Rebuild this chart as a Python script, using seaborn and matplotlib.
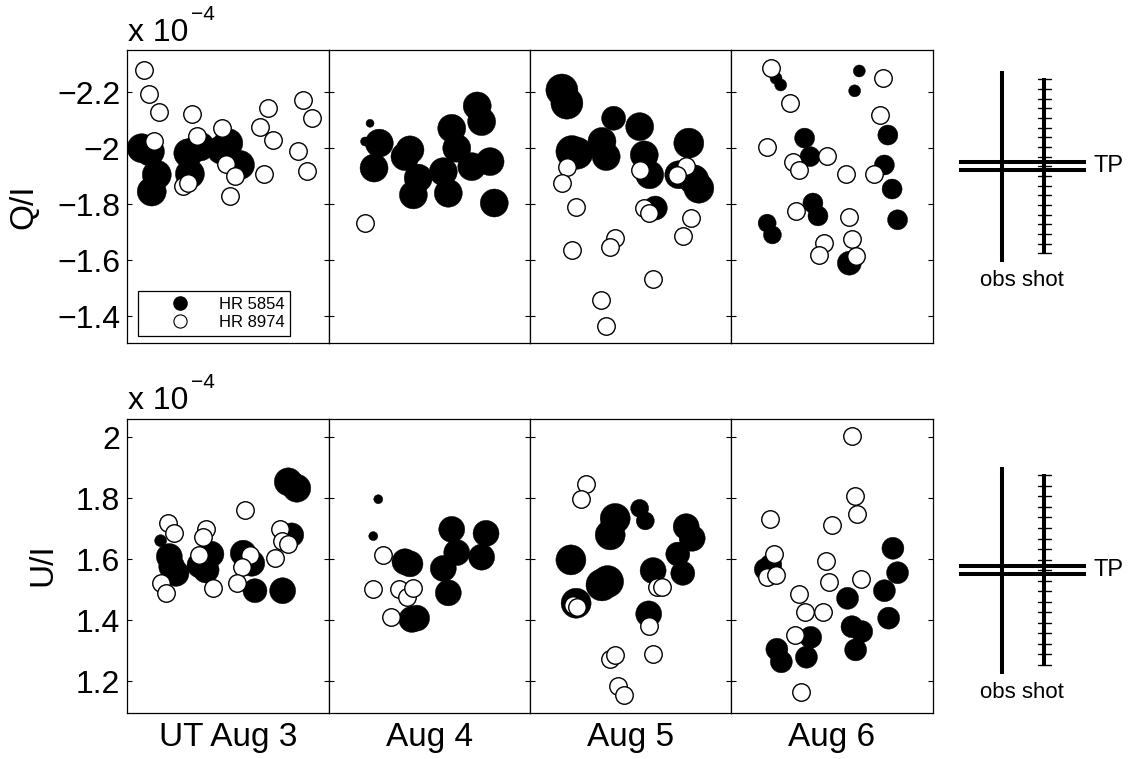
import numpy as np
import pandas as pd
import matplotlib
matplotlib.use("Agg")
import matplotlib.pyplot as plt
from matplotlib.lines import Line2D
import seaborn as sns

# ---------------- data ----------------
DAYS = ["UT Aug 3", "Aug 4", "Aug 5", "Aug 6"]
STARS = ["HR 5854", "HR 8974"]

# Q/I (units of 1e-4), HR 5854 (filled): night index, time within night (fraction), value, weight
Q_5854_DAY = [0, 0, 0, 0, 0, 0, 0, 0, 0, 0,
              1, 1, 1, 1, 1, 1, 1, 1, 1, 1, 1, 1, 1, 1, 1, 1, 1,
              2, 2, 2, 2, 2, 2, 2, 2, 2, 2, 2, 2, 2, 2, 2,
              3, 3, 3, 3, 3, 3, 3, 3, 3, 3, 3, 3, 3, 3, 3]
Q_5854_T = [0.071, 0.112, 0.146, 0.121, 0.302, 0.360, 0.310, 0.500, 0.467, 0.558,
            0.203, 0.178, 0.249, 0.223, 0.377, 0.402, 0.443, 0.419, 0.568, 0.593,
            0.610, 0.635, 0.737, 0.759, 0.710, 0.801, 0.822,
            0.159, 0.184, 0.209, 0.234, 0.417, 0.359, 0.380, 0.547, 0.570, 0.597,
            0.625, 0.792, 0.742, 0.842, 0.817,
            0.225, 0.248, 0.636, 0.613, 0.366, 0.393, 0.777, 0.760, 0.798, 0.825,
            0.407, 0.432, 0.181, 0.207, 0.587]
Q_5854_VAL = [-2.000, -1.988, -1.905, -1.845, -1.982, -2.006, -1.908, -2.018, -1.994, -1.940,
              -2.089, -2.024, -2.018, -1.929, -1.970, -1.994, -1.893, -1.833, -1.916, -1.839,
              -2.071, -2.000, -2.151, -2.095, -1.934, -1.952, -1.804,
              -2.208, -2.161, -1.988, -1.982, -2.107, -2.024, -1.970, -2.077, -1.976, -1.905,
              -1.786, -2.018, -1.905, -1.857, -1.887,
              -2.250, -2.226, -2.276, -2.205, -2.036, -1.970, -2.047, -1.940, -1.854, -1.744,
              -1.804, -1.758, -1.732, -1.690, -1.589]
Q_5854_W = [29, 29, 29, 29, 29, 29, 29, 29, 29, 29,
            8, 9, 28, 28, 28, 28, 28, 28, 28, 28, 28, 28, 28, 28, 28, 28, 28,
            32, 32, 32, 32, 24, 28, 28, 28, 28, 28, 24, 30, 28, 30, 30,
            12, 12, 12, 12, 20, 20, 20, 20, 20, 20, 20, 20, 18, 18, 24]

# Q/I, HR 8974 (open)
Q_8974_DAY = [0, 0, 0, 0, 0, 0, 0, 0, 0, 0, 0, 0, 0, 0, 0, 0, 0, 0, 0, 0,
              1,
              2, 2, 2, 2, 2, 2, 2, 2, 2, 2, 2, 2, 2, 2, 2, 2,
              3, 3, 3, 3, 3, 3, 3, 3, 3, 3, 3, 3, 3, 3, 3, 3]
Q_8974_T = [0.084, 0.109, 0.157, 0.134, 0.322, 0.345, 0.277, 0.302, 0.469, 0.487,
            0.533, 0.510, 0.698, 0.657, 0.721, 0.677, 0.870, 0.914, 0.845, 0.890,
            0.179,
            0.187, 0.162, 0.230, 0.209, 0.422, 0.397, 0.354, 0.380, 0.547, 0.570,
            0.592, 0.614, 0.779, 0.734, 0.804, 0.762,
            0.199, 0.292, 0.181, 0.310, 0.340, 0.477, 0.569, 0.707, 0.754, 0.740,
            0.322, 0.587, 0.600, 0.460, 0.437, 0.618]
Q_8974_VAL = [-2.280, -2.193, -2.131, -2.024, -2.121, -2.044, -1.865, -1.875, -2.071, -1.944,
              -1.899, -1.830, -2.145, -2.077, -2.030, -1.907, -2.173, -2.107, -1.990, -1.919,
              -1.734,
              -1.934, -1.877, -1.789, -1.637, -1.679, -1.645, -1.458, -1.363, -1.922, -1.786,
              -1.768, -1.532, -1.937, -1.905, -1.750, -1.687,
              -2.288, -2.163, -2.006, -1.949, -1.922, -1.972, -1.907, -1.908, -2.252, -2.119,
              -1.777, -1.754, -1.675, -1.661, -1.619, -1.613]

# U/I (units of 1e-4), HR 5854 (filled)
U_5854_DAY = [0, 0, 0, 0, 0, 0, 0, 0, 0, 0, 0, 0, 0, 0,
              1, 1, 1, 1, 1, 1, 1, 1, 1, 1, 1, 1,
              2, 2, 2, 2, 2, 2, 2, 2, 2, 2, 2, 2, 2, 2,
              3, 3, 3, 3, 3, 3, 3, 3, 3, 3, 3, 3, 3, 3]
U_5854_T = [0.165, 0.208, 0.220, 0.241, 0.414, 0.360, 0.390, 0.574, 0.616, 0.632,
            0.769, 0.814, 0.797, 0.839,
            0.244, 0.219, 0.377, 0.402, 0.411, 0.435, 0.568, 0.593, 0.610, 0.635,
            0.781, 0.759,
            0.204, 0.230, 0.425, 0.400, 0.387, 0.359, 0.547, 0.575, 0.614, 0.592,
            0.779, 0.809, 0.737, 0.762,
            0.172, 0.199, 0.229, 0.251, 0.396, 0.375, 0.578, 0.600, 0.648, 0.618,
            0.802, 0.825, 0.760, 0.781]
U_5854_VAL = [1.661, 1.609, 1.576, 1.554, 1.617, 1.581, 1.565, 1.620, 1.587, 1.497,
              1.497, 1.680, 1.854, 1.833,
              1.797, 1.676, 1.592, 1.585, 1.403, 1.407, 1.570, 1.490, 1.698, 1.622,
              1.685, 1.607,
              1.598, 1.456, 1.734, 1.680, 1.527, 1.516, 1.767, 1.726, 1.563, 1.421,
              1.707, 1.669, 1.617, 1.554,
              1.567, 1.581, 1.305, 1.264, 1.344, 1.279, 1.472, 1.379, 1.363, 1.303,
              1.636, 1.556, 1.497, 1.407]
U_5854_W = [12, 26, 26, 26, 26, 26, 26, 26, 26, 24, 26, 24, 28, 28,
            9, 9, 26, 26, 26, 26, 26, 26, 26, 26, 26, 26,
            30, 30, 30, 30, 32, 32, 18, 18, 26, 26, 26, 26, 24, 24,
            22, 22, 22, 22, 22, 22, 22, 22, 22, 22, 22, 22, 22, 22]

# U/I, HR 8974 (open)
U_8974_DAY = [0, 0, 0, 0, 0, 0, 0, 0, 0, 0, 0, 0, 0, 0, 0, 0,
              1, 1, 1, 1, 1, 1,
              2, 2, 2, 2, 2, 2, 2, 2, 2, 2, 2, 2,
              3, 3, 3, 3, 3, 3, 3, 3, 3, 3, 3, 3, 3, 3, 3, 3]
U_8974_T = [0.203, 0.231, 0.165, 0.190, 0.390, 0.376, 0.356, 0.423, 0.583, 0.607,
            0.566, 0.542, 0.756, 0.731, 0.764, 0.797,
            0.266, 0.219, 0.349, 0.389, 0.416, 0.307,
            0.280, 0.254, 0.214, 0.234, 0.397, 0.425, 0.439, 0.467, 0.592, 0.614,
            0.634, 0.659,
            0.600, 0.615, 0.627, 0.195, 0.502, 0.213, 0.181, 0.227, 0.472, 0.486,
            0.643, 0.340, 0.366, 0.458, 0.319, 0.349]
U_8974_VAL = [1.720, 1.685, 1.523, 1.490, 1.699, 1.674, 1.614, 1.505, 1.762, 1.614,
              1.574, 1.521, 1.699, 1.603, 1.661, 1.650,
              1.614, 1.502, 1.502, 1.477, 1.505, 1.410,
              1.847, 1.797, 1.450, 1.444, 1.272, 1.286, 1.185, 1.155, 1.381, 1.289,
              1.510, 1.510,
              2.005, 1.808, 1.748, 1.732, 1.712, 1.616, 1.543, 1.549, 1.595, 1.527,
              1.534, 1.485, 1.428, 1.426, 1.352, 1.166]

Q_TICKS = [-2.2, -2.0, -1.8, -1.6, -1.4]
Q_TICKLABELS = ["\u22122.2", "\u22122", "\u22121.8", "\u22121.6", "\u22121.4"]
U_TICKS = [1.2, 1.4, 1.6, 1.8, 2.0]
U_TICKLABELS = ["1.2", "1.4", "1.6", "1.8", "2"]

# ---------------- style ----------------
sns.set_theme(style="white")
plt.rcParams["font.family"] = ["Liberation Sans", "DejaVu Sans"]
plt.rcParams.update({
    "text.color": "black", "axes.labelcolor": "black",
    "xtick.color": "black", "ytick.color": "black",
    "axes.edgecolor": "black", "axes.linewidth": 0.9,
})

W_PX, H_PX = 1129, 759
fig = plt.figure(figsize=(W_PX / 100, H_PX / 100), dpi=100)
fig.patch.set_facecolor("white")


def rect(x0, x1, y0, y1):
    return [x0 / W_PX, 1 - y1 / H_PX, (x1 - x0) / W_PX, (y1 - y0) / H_PX]


COL_EDGES = [127.3, 329.3, 530.0, 730.5, 933.0]
ROWS = {"Q": (50.0, 343.3), "U": (419.0, 712.7)}
YLIMS = {"Q": (-1.3025, -2.351), "U": (1.097, 2.060)}

PX2PT = 0.72
A_MIN, A_MAX = (PX2PT * 4) ** 2, (PX2PT * 40) ** 2
OPEN_S = (PX2PT * 17.5) ** 2

frames = {
    "Q": (pd.DataFrame({"day": Q_5854_DAY, "t": Q_5854_T, "val": Q_5854_VAL, "w": Q_5854_W}),
          pd.DataFrame({"day": Q_8974_DAY, "t": Q_8974_T, "val": Q_8974_VAL})),
    "U": (pd.DataFrame({"day": U_5854_DAY, "t": U_5854_T, "val": U_5854_VAL, "w": U_5854_W}),
          pd.DataFrame({"day": U_8974_DAY, "t": U_8974_T, "val": U_8974_VAL})),
}

axes = {}
for key, (y0, y1) in ROWS.items():
    dfb, dfo = frames[key]
    dfb = dfb.assign(area=(PX2PT * dfb["w"]) ** 2)
    for d in range(4):
        ax = fig.add_axes(rect(COL_EDGES[d], COL_EDGES[d + 1], y0, y1))
        axes[(key, d)] = ax
        sub_b = dfb[dfb["day"] == d]
        sub_o = dfo[dfo["day"] == d]
        sns.scatterplot(data=sub_b, x="t", y="val", size="area",
                        sizes=(A_MIN, A_MAX), size_norm=(A_MIN, A_MAX),
                        color="black", edgecolor="black", linewidth=0.3,
                        legend=False, ax=ax, zorder=2)
        sns.scatterplot(data=sub_o, x="t", y="val", s=OPEN_S,
                        color="white", edgecolor="black", linewidth=1.0,
                        legend=False, ax=ax, zorder=3)
        ax.set_xlim(0, 1)
        ax.set_ylim(*YLIMS[key])
        ax.set_xlabel("")
        ax.set_ylabel("")
        ax.set_xticks([])
        ticks = Q_TICKS if key == "Q" else U_TICKS
        labels = Q_TICKLABELS if key == "Q" else U_TICKLABELS
        ax.set_yticks(ticks)
        ax.set_yticklabels(labels)
        ax.tick_params(axis="y", direction="in", left=True, right=True,
                       length=3.5, width=0.8, labelleft=(d == 0),
                       labelsize=23, pad=5)
        for s in ax.spines.values():
            s.set_color("black")
            s.set_linewidth(0.9)

# legend
lax = axes[("Q", 0)]
handles = [
    Line2D([], [], marker="o", ls="", markerfacecolor="black",
           markeredgecolor="black", markersize=9.5),
    Line2D([], [], marker="o", ls="", markerfacecolor="white",
           markeredgecolor="black", markersize=9.5, markeredgewidth=0.8),
]
leg = lax.legend(handles, STARS, loc="lower left",
                 bbox_to_anchor=(0.0515, 0.0249), fontsize=12, frameon=True,
                 fancybox=False, edgecolor="black", framealpha=1,
                 handlelength=4.4, handletextpad=0.1, borderpad=0.35,
                 labelspacing=0.2, borderaxespad=0)
leg.get_frame().set_linewidth(0.9)

# overlay for texts and the schematic diagrams (pixel coordinates)
ov = fig.add_axes([0, 0, 1, 1], zorder=10)
ov.set_xlim(0, W_PX)
ov.set_ylim(H_PX, 0)
ov.axis("off")
ov.patch.set_alpha(0)

# multipliers
for yb in (41.0, 409.0):
    ov.text(128.3, yb, "x 10", fontsize=23, ha="left", va="baseline")
    ov.text(191.0, yb - 21, "\u22124", fontsize=15, ha="left", va="baseline")

# y labels
ov.text(24, 207, "Q/I", fontsize=24, rotation=90, ha="center", va="center")
ov.text(43, 565, "U/I", fontsize=24, rotation=90, ha="center", va="center")

# x labels
for d, lab in enumerate(DAYS):
    xc = 0.5 * (COL_EDGES[d] + COL_EDGES[d + 1])
    ov.text(xc, 746, lab, fontsize=24, ha="center", va="baseline")

# schematic: obs / shot / TP
OBS_X, SHOT_X = 1001.7, 1044.0
for (obs0, obs1, sh0, sh1, tp1, tp2, lab_y) in [
        (71.0, 261.7, 78.3, 254.3, 161.7, 170.0, 280.0),
        (466.7, 674.0, 474.3, 666.0, 566.0, 574.0, 692.7)]:
    ov.plot([OBS_X, OBS_X], [obs0, obs1], color="black", lw=2.9,
            solid_capstyle="butt")
    ov.plot([SHOT_X, SHOT_X], [sh0, sh1], color="black", lw=2.9,
            solid_capstyle="butt")
    for ty in np.linspace(sh0 + 1, sh1 - 1, 19):
        ov.plot([SHOT_X - 6.5, SHOT_X + 6.5], [ty, ty], color="black", lw=1.0)
    for hy in (tp1, tp2):
        ov.plot([959.3, 1086.0], [hy, hy], color="black", lw=2.9,
                solid_capstyle="butt")
    ov.text(1093, 0.5 * (tp1 + tp2), "TP", fontsize=17, ha="left", va="center")
    ov.text(1021.5, lab_y, "obs shot", fontsize=16, ha="center", va="center")

fig.savefig("out.png", dpi=100, facecolor="white")
